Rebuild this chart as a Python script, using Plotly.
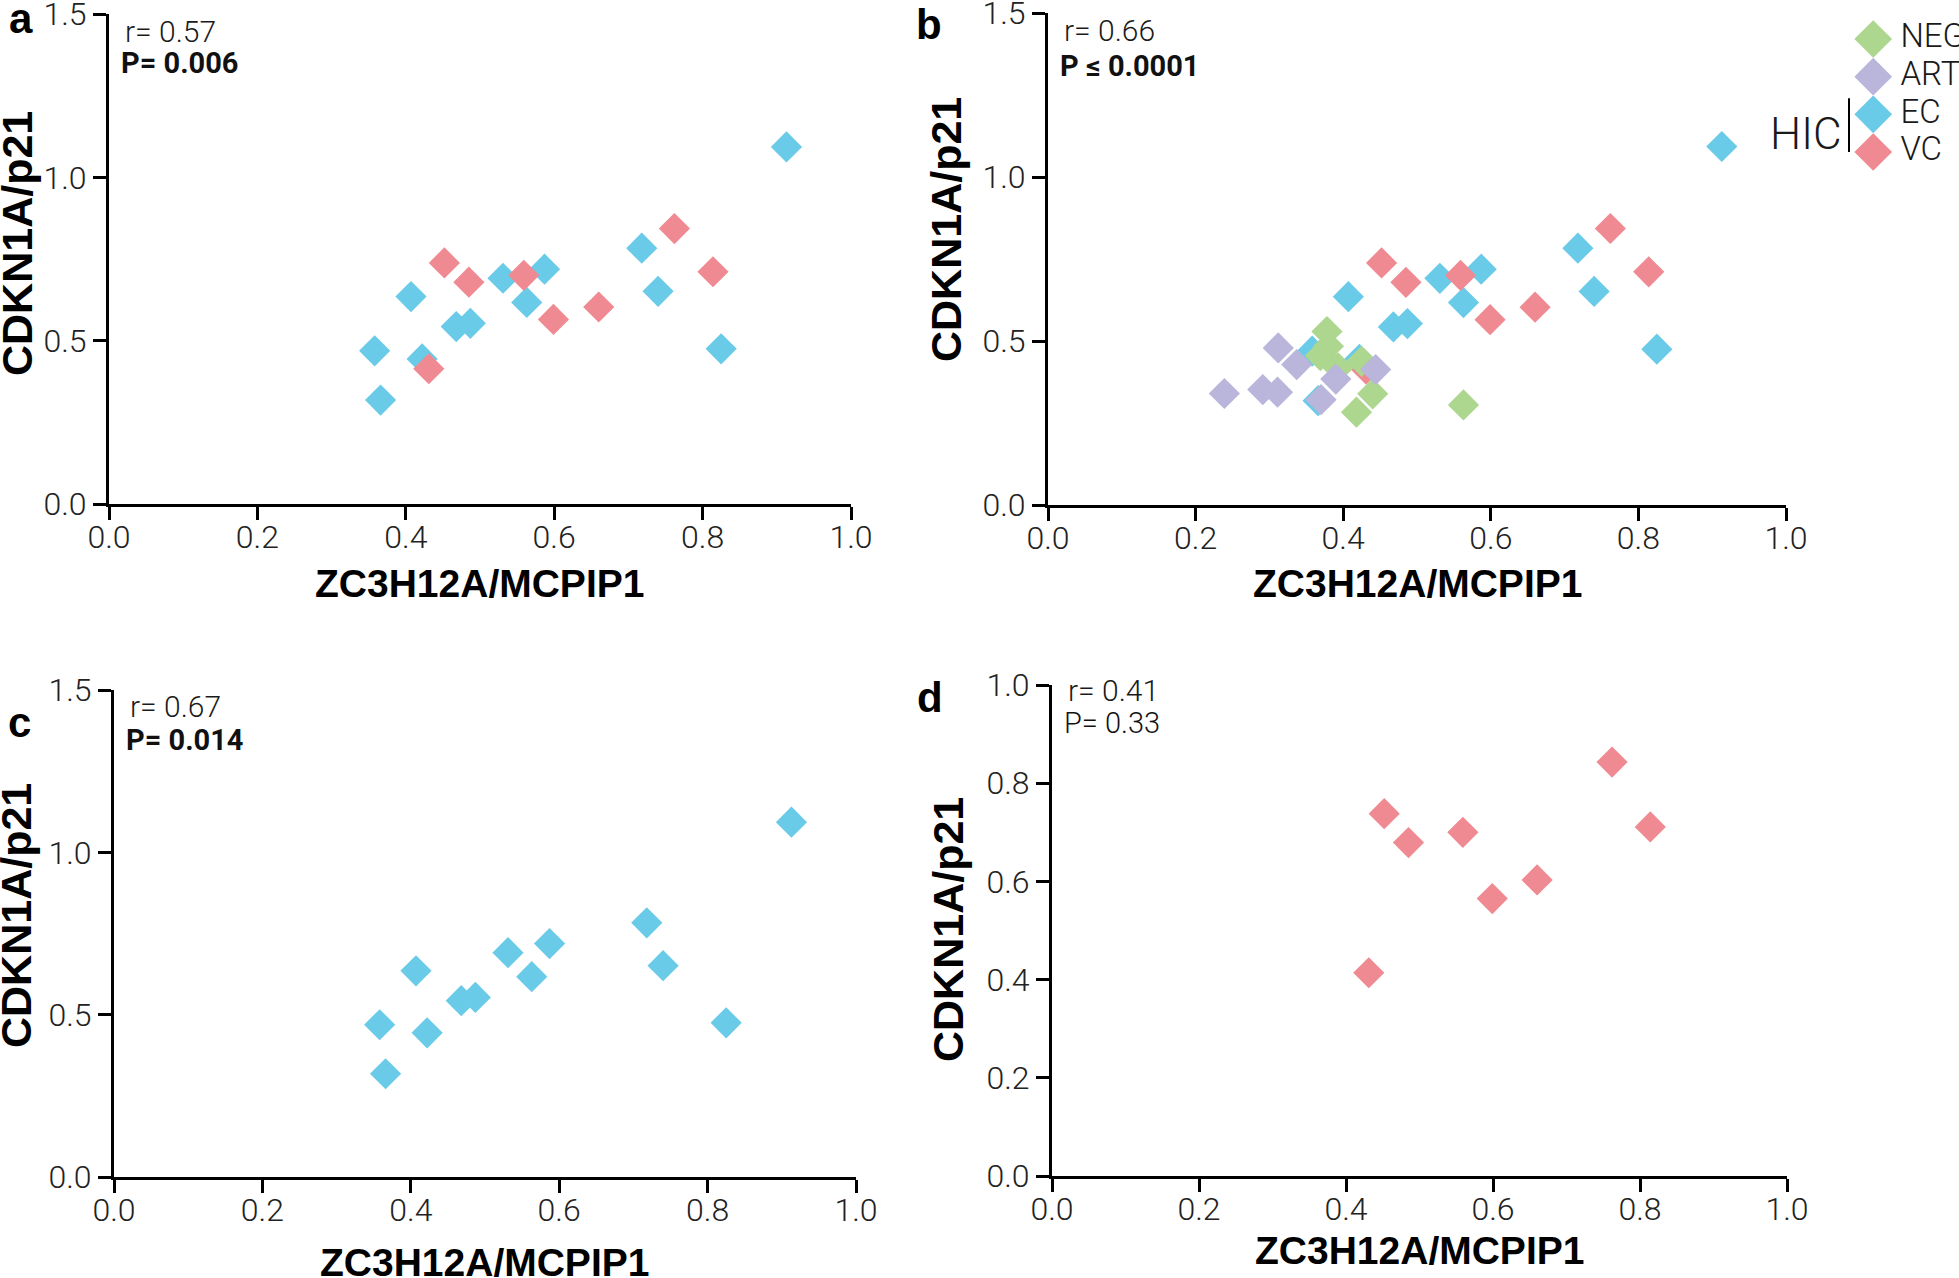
import plotly.graph_objects as go

W, H = 1959, 1278
LIGHT = "Roboto"
BOLD = "Liberation Sans, Arial, sans-serif"

# group colours
COLORS = {"NEG": "#ADD68F", "ART": "#B9B5DB", "EC": "#6ACBE8", "VC": "#F08A92"}

# ZC3H12A/MCPIP1 (x) vs CDKN1A/p21 (y) per group
EC_X = [0.913, 0.718, 0.587, 0.531, 0.563, 0.407, 0.468, 0.487, 0.358, 0.422, 0.366, 0.740, 0.825]
EC_Y = [1.093, 0.783, 0.719, 0.691, 0.617, 0.635, 0.543, 0.553, 0.469, 0.444, 0.318, 0.651, 0.475]
VC_X = [0.452, 0.485, 0.559, 0.599, 0.660, 0.762, 0.814, 0.431]
VC_Y = [0.738, 0.679, 0.700, 0.565, 0.603, 0.843, 0.711, 0.414]
NEG_X = [0.378, 0.380, 0.369, 0.393, 0.425, 0.440, 0.418, 0.563]
NEG_Y = [0.529, 0.484, 0.455, 0.418, 0.438, 0.339, 0.283, 0.305]
ART_X = [0.312, 0.337, 0.239, 0.291, 0.311, 0.370, 0.390, 0.444]
ART_Y = [0.479, 0.428, 0.340, 0.352, 0.344, 0.321, 0.384, 0.413]

GROUP_DATA = {"EC": (EC_X, EC_Y), "VC": (VC_X, VC_Y), "NEG": (NEG_X, NEG_Y), "ART": (ART_X, ART_Y)}

PANEL_LETTERS = ["a", "b", "c", "d"]
PANEL_GROUPS = [["EC", "VC"], ["EC", "VC", "NEG", "ART"], ["EC"], ["VC"]]
PANEL_YMAX = [1.5, 1.5, 1.5, 1.0]
PANEL_YDTICK = [0.5, 0.5, 0.5, 0.2]
STATS_R = ["0.57", "0.66", "0.67", "0.41"]
STATS_P = ["P= 0.006", "P ≤ 0.0001", "P= 0.014", "P= 0.33"]
STATS_P_BOLD = [True, True, True, False]

LEGEND_ORDER = ["NEG", "ART", "EC", "VC"]

X_TITLE = "ZC3H12A/MCPIP1"
Y_TITLE = "CDKN1A/p21"

# page-pixel boxes of the plot areas: (left, right, top, bottom)
BOXES = [(109, 851, 14, 504), (1048, 1786, 13, 505), (114, 856, 690, 1177), (1052, 1787, 685, 1176)]
LETTER_POS = [(21, 19), (929, 24), (19, 722), (930, 697)]
# centres of the stats lines, pixels below the top of each plot area
STATS_DY = [(17, 49), (17, 53), (16, 50), (5, 38)]
XTITLE_Y = [584, 584, 1262, 1250]
YTITLE_X = [17, 946, 16, 948]
YTITLE_Y = [244, 230, 916, 930]


def fx(px):
    return px / W


def fy(py):
    return 1 - py / H


fig = go.Figure()
layout = {}
annotations = []
shapes = []

for i, letter in enumerate(PANEL_LETTERS):
    sfx = "" if i == 0 else str(i + 1)
    l, r, t, b = BOXES[i]
    axis_common = dict(
        showline=True, linecolor="black", linewidth=3,
        ticks="outside", ticklen=13, tickwidth=3, tickcolor="black",
        showgrid=False, zeroline=False, automargin=False, ticklabeloverflow="allow",
        tickfont=dict(family=LIGHT, size=32, color="#222222", weight=300),
        tickformat=".1f",
    )
    layout["xaxis" + sfx] = dict(axis_common, domain=[fx(l), fx(r)], range=[0, 1], dtick=0.2, tick0=0,
                                 anchor="y" + sfx, ticklabelstandoff=-10)
    layout["yaxis" + sfx] = dict(axis_common, domain=[fy(b), fy(t)], range=[0, PANEL_YMAX[i]],
                                 dtick=PANEL_YDTICK[i], tick0=0, anchor="x" + sfx,
                                 ticklabelstandoff=0)

    for g in PANEL_GROUPS[i]:
        xs, ys = GROUP_DATA[g]
        fig.add_trace(go.Scatter(
            x=xs, y=ys, mode="markers", name=g, showlegend=False,
            xaxis="x" + sfx, yaxis="y" + sfx, cliponaxis=False,
            marker=dict(symbol="diamond", size=24, color=COLORS[g], line=dict(width=0)),
        ))

    xr, yr = "x%s domain" % sfx, "y%s domain" % sfx
    dy_r, dy_p = STATS_DY[i]
    annotations.append(dict(xref=xr, yref=yr, x=14 / (r - l), y=1 - dy_r / (b - t),
                            text="r= " + STATS_R[i], showarrow=False, xanchor="left", yanchor="middle",
                            font=dict(family=LIGHT, size=30, color="#1a1a1a", weight=300)))
    ptxt = "<b>%s</b>" % STATS_P[i] if STATS_P_BOLD[i] else STATS_P[i]
    annotations.append(dict(xref=xr, yref=yr, x=10 / (r - l), y=1 - dy_p / (b - t),
                            text=ptxt, showarrow=False, xanchor="left", yanchor="middle",
                            font=dict(family=LIGHT, size=29, color="#111111",
                                      weight=700 if STATS_P_BOLD[i] else 300)))
    # axis titles
    annotations.append(dict(xref=xr, yref="paper", x=0.5, y=fy(XTITLE_Y[i]), text="<b>%s</b>" % X_TITLE,
                            showarrow=False, xanchor="center", yanchor="middle",
                            font=dict(family=BOLD, size=39, color="black")))
    annotations.append(dict(xref="paper", yref="paper", x=fx(YTITLE_X[i]), y=fy(YTITLE_Y[i]),
                            text="<b>%s</b>" % Y_TITLE, textangle=-90, showarrow=False,
                            xanchor="center", yanchor="middle",
                            font=dict(family=BOLD, size=43, color="black")))
    lx, ly = LETTER_POS[i]
    annotations.append(dict(xref="paper", yref="paper", x=fx(lx), y=fy(ly), text="<b>%s</b>" % letter,
                            showarrow=False, xanchor="center", yanchor="middle",
                            font=dict(family=BOLD, size=42, color="black")))

# custom legend for panel b
leg_y = list(range(len(LEGEND_ORDER)))[::-1]
for g, yy in zip(LEGEND_ORDER, leg_y):
    fig.add_trace(go.Scatter(
        x=[0.27], y=[yy], mode="markers+text", text=[" " + g], textposition="middle right",
        textfont=dict(family=LIGHT, size=33, color="#1a1a1a", weight=300),
        marker=dict(symbol="diamond", size=29, color=COLORS[g], line=dict(width=0)),
        xaxis="x5", yaxis="y5", showlegend=False, cliponaxis=False, hoverinfo="skip",
    ))
layout["xaxis5"] = dict(domain=[fx(1841.5), 1.0], range=[0, 1], visible=False, anchor="y5",
                        automargin=False)
layout["yaxis5"] = dict(domain=[fy(152), fy(39)], range=[0, 3], visible=False, anchor="x5",
                        automargin=False)
annotations.append(dict(xref="paper", yref="y5", x=fx(1843), y=0.48, text="HIC", showarrow=False,
                        xanchor="right", yanchor="middle",
                        font=dict(family=LIGHT, size=44, color="#1a1a1a", weight=300)))
shapes.append(dict(type="line", xref="paper", yref="y5", x0=fx(1849), x1=fx(1849), y0=-0.48, y1=1.43,
                   line=dict(color="black", width=2)))

fig.update_layout(
    **layout,
    width=W, height=H,
    margin=dict(l=0, r=0, t=0, b=0, autoexpand=False),
    paper_bgcolor="white", plot_bgcolor="white",
    annotations=annotations, shapes=shapes,
    showlegend=False,
)
# the page body has a default 8px margin; drop it so the figure fills the window
fig.write_html("out.html", config={"displayModeBar": False},
               post_script="document.body.style.margin = '0';")
